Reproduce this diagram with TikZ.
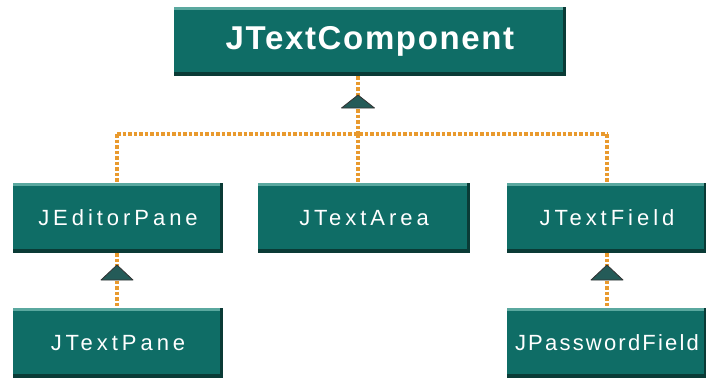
\documentclass[tikz,border=0pt]{standalone}
\usepackage{fontspec}
\setmainfont{Liberation Sans}
\newfontfamily\bigfont[LetterSpace=5]{Liberation Sans}
\newfontfamily\smallfont[LetterSpace=18]{Liberation Sans}
\newfontfamily\narrowfont[LetterSpace=10]{Liberation Sans}
\definecolor{boxfill}{HTML}{0F6D66}
\definecolor{boxlight}{HTML}{5AA89F}
\definecolor{boxdark}{HTML}{0A3B36}
\definecolor{dotcol}{HTML}{E99A2E}
\definecolor{trifill}{HTML}{245B58}
\tikzset{
  cls/.style={draw=none, fill=boxfill, text=white, inner sep=0pt,
    path picture={
      \fill[boxlight] (path picture bounding box.north west) rectangle ([yshift=-3pt]path picture bounding box.north east);
      \fill[boxdark] ([yshift=4pt]path picture bounding box.south west) rectangle (path picture bounding box.south east);
      \fill[boxdark] ([xshift=-3pt]path picture bounding box.south east) rectangle (path picture bounding box.north east);
    }},
  bigcls/.style={cls, minimum width=392pt, minimum height=69pt, font=\bigfont\bfseries\fontsize{33}{36}\selectfont},
  smallcls/.style={cls, minimum height=70pt, font=\smallfont\fontsize{22}{24}\selectfont},
  conn/.style={draw=dotcol, line width=4pt, dash pattern=on 3.5pt off 2pt},
  inh/.style={fill=trifill, draw=black!80, line width=0.8pt, line join=round}
}
\begin{document}
\begin{tikzpicture}[x=1pt,y=-1pt]
\useasboundingbox (0,0) rectangle (706,378);
\clip (0,0) rectangle (706,378);
\fill[white] (0,0) rectangle (706,378);
% nodes
\node[bigcls] (top) at (370,41.5) {JTextComponent};
\node[smallcls, minimum width=210pt] (ep) at (118,218) {JEditorPane};
\node[smallcls, minimum width=212pt] (ta) at (364,218) {JTextArea};
\node[smallcls, minimum width=200pt] (tf) at (607,218) {JTextField};
\node[smallcls, minimum width=210pt] (tp) at (118,343) {JTextPane};
\node[smallcls, minimum width=200pt, font=\narrowfont\fontsize{22}{24}\selectfont] (pf) at (607,343) {JPasswordField};
% junctions
\coordinate (j1) at (358,134);
\coordinate (jl) at (117,134);
\coordinate (jr) at (607,134);
% connectors
\draw[conn] (top.south -| j1) -- (j1);
\draw[conn] (jl) -- (jr);
\draw[conn] (jl) -- (jl |- ep.north);
\draw[conn] (j1) -- (j1 |- ta.north);
\draw[conn] (jr) -- (jr |- tf.north);
\draw[conn] (ep.south -| jl) -- (jl |- tp.north);
\draw[conn] (tf.south -| jr) -- (jr |- pf.north);
% inheritance triangles
\filldraw[inh] (358,95) -- (374.5,108) -- (341.5,108) -- cycle;
\filldraw[inh] (117,265) -- (133,280) -- (101,280) -- cycle;
\filldraw[inh] (607,265) -- (623,280) -- (591,280) -- cycle;
\end{tikzpicture}
\end{document}
